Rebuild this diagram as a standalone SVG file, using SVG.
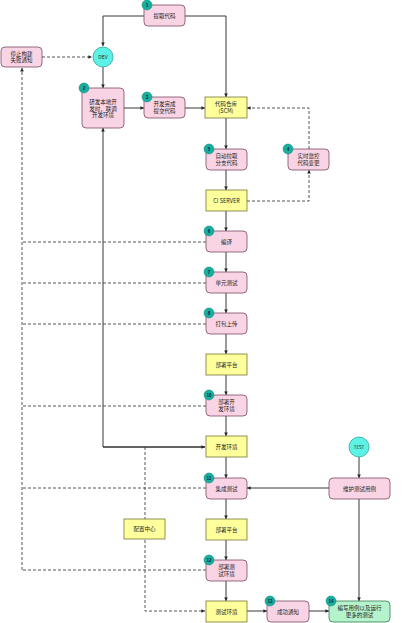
<svg xmlns="http://www.w3.org/2000/svg" width="418" height="623" viewBox="0 0 418 623">
<defs>
<marker id="ah" viewBox="0 0 6 6" refX="6" refY="3" markerWidth="4" markerHeight="4" orient="auto"><path d="M0,0 L6,3 L0,6 z" fill="#222"/></marker>
<style>
.pk{fill:#f9d4e4;stroke:#7a4a62;stroke-width:0.8}
.yl{fill:#ffff9c;stroke:#77773a;stroke-width:0.8}
.gr{fill:#b4f3cc;stroke:#3a7a52;stroke-width:0.8}
.cy{fill:#5cf2e6;stroke:#2aa8a0;stroke-width:0.8}
.bd{fill:#16b0a0;stroke:#0d7f73;stroke-width:0.5}
.t{font-family:"Noto Sans CJK SC","Liberation Sans",sans-serif;font-size:5.5px;fill:#222;text-anchor:middle}
.n{font-family:"Liberation Sans",sans-serif;font-size:4.5px;font-weight:bold;fill:#123;text-anchor:middle}
.s{fill:none;stroke:#222;stroke-width:0.9}
.d{fill:none;stroke:#444;stroke-width:0.9;stroke-dasharray:3,2}
</style>
</defs>
<rect width="418" height="623" fill="#fff"/>
<g id="connectors">
<path class="s" d="M185,16 H226 V97" marker-end="url(#ah)"/>
<path class="s" d="M144,16 H103 V46" marker-end="url(#ah)"/>
<path class="s" d="M103,67 V88" marker-end="url(#ah)"/>
<path class="d" d="M42,57 H92" marker-end="url(#ah)"/>
<path class="s" d="M124,108 H144" marker-end="url(#ah)"/>
<path class="s" d="M185,108 H205" marker-end="url(#ah)"/>
<path class="d" d="M309,149 V108 H247" marker-end="url(#ah)"/>
<path class="s" d="M226,118 V149" marker-end="url(#ah)"/>
<path class="s" d="M226,170 V190" marker-end="url(#ah)"/>
<path class="d" d="M247,201 H309 V170" marker-end="url(#ah)"/>
<path class="s" d="M226,211 V231" marker-end="url(#ah)"/>
<path class="s" d="M226,252 V272" marker-end="url(#ah)"/>
<path class="s" d="M226,293 V313" marker-end="url(#ah)"/>
<path class="s" d="M226,334 V354" marker-end="url(#ah)"/>
<path class="s" d="M226,375 V395" marker-end="url(#ah)"/>
<path class="s" d="M226,416 V436" marker-end="url(#ah)"/>
<path class="s" d="M226,457 V478" marker-end="url(#ah)"/>
<path class="s" d="M226,499 V519" marker-end="url(#ah)"/>
<path class="s" d="M226,540 V560" marker-end="url(#ah)"/>
<path class="s" d="M226,581 V601" marker-end="url(#ah)"/>
<path class="s" d="M205,447 H103 V128" marker-end="url(#ah)"/>
<path class="s" d="M103,447 H205" marker-end="url(#ah)"/>
<path class="d" d="M22,570 V68" marker-end="url(#ah)"/>
<path class="d" d="M206,242 H22 M206,283 H22 M206,324 H22 M206,406 H22 M206,488 H22 M206,570 H22"/>
<path class="d" d="M145,447 V519 M145,540 V611 H205" marker-end="url(#ah)"/>
<path class="s" d="M359,457 V478" marker-end="url(#ah)"/>
<path class="s" d="M329,488 H247" marker-end="url(#ah)"/>
<path class="s" d="M359,499 V601" marker-end="url(#ah)"/>
<path class="s" d="M247,611 H267" marker-end="url(#ah)"/>
<path class="s" d="M309,611 H329" marker-end="url(#ah)"/>
</g>
<g id="n1"><rect class="pk" x="144" y="5" width="41" height="21" rx="4"/><text class="t" x="164.5" y="17.5">提取代码</text><circle class="bd" cx="147" cy="5" r="5"/><text class="n" x="147" y="6.6">1</text></g>
<g id="stop"><rect class="pk" x="1" y="47" width="41" height="20" rx="4"/><text class="t" x="21.5" y="55.5">停止构建</text><text class="t" x="21.5" y="62">失败通知</text></g>
<g id="dev"><circle class="cy" cx="103" cy="57" r="10"/><text class="t" x="103" y="59" style="font-size:5px">DEV</text></g>
<g id="n2"><rect class="pk" x="82" y="88" width="42" height="40" rx="4"/><text class="t" x="103" y="104">研发本地开</text><text class="t" x="103" y="110.5">发时，联调</text><text class="t" x="103" y="117">开发环境</text><circle class="bd" cx="84" cy="88" r="5"/><text class="n" x="84" y="89.6">2</text></g>
<g id="n3"><rect class="pk" x="144" y="97" width="41" height="21" rx="4"/><text class="t" x="164.5" y="106">开发完成</text><text class="t" x="164.5" y="112.5">提交代码</text><circle class="bd" cx="147" cy="97" r="5"/><text class="n" x="147" y="98.6">3</text></g>
<g id="scm"><rect class="yl" x="205" y="97" width="42" height="21"/><text class="t" x="226" y="106">代码仓库</text><text class="t" x="226" y="112.5">(SCM)</text></g>
<g id="n4"><rect class="pk" x="288" y="149" width="41" height="21" rx="4"/><text class="t" x="308.5" y="158">实时监控</text><text class="t" x="308.5" y="164.5">代码变更</text><circle class="bd" cx="288" cy="149" r="5"/><text class="n" x="288" y="150.6">4</text></g>
<g id="n5"><rect class="pk" x="206" y="149" width="41" height="21" rx="4"/><text class="t" x="226.5" y="158">自动拉取</text><text class="t" x="226.5" y="164.5">分支代码</text><circle class="bd" cx="209" cy="149" r="5"/><text class="n" x="209" y="150.6">5</text></g>
<g id="ci"><rect class="yl" x="206" y="190" width="41" height="21"/><text class="t" x="226.5" y="202.5">CI SERVER</text></g>
<g id="n6"><rect class="pk" x="206" y="231" width="41" height="21" rx="4"/><text class="t" x="226.5" y="243.5">编译</text><circle class="bd" cx="209" cy="231" r="5"/><text class="n" x="209" y="232.6">6</text></g>
<g id="n7"><rect class="pk" x="206" y="272" width="41" height="21" rx="4"/><text class="t" x="226.5" y="284.5">单元测试</text><circle class="bd" cx="209" cy="272" r="5"/><text class="n" x="209" y="273.6">7</text></g>
<g id="n8"><rect class="pk" x="206" y="313" width="41" height="21" rx="4"/><text class="t" x="226.5" y="325.5">打包上传</text><circle class="bd" cx="209" cy="313" r="5"/><text class="n" x="209" y="314.6">8</text></g>
<g id="deploy1"><rect class="yl" x="206" y="354" width="41" height="21"/><text class="t" x="226.5" y="366.5">部署平台</text></g>
<g id="n10"><rect class="pk" x="206" y="395" width="41" height="21" rx="4"/><text class="t" x="226.5" y="404">部署开</text><text class="t" x="226.5" y="410.5">发环境</text><circle class="bd" cx="209" cy="395" r="5"/><text class="n" x="209" y="396.6">10</text></g>
<g id="devenv"><rect class="yl" x="206" y="436" width="41" height="21"/><text class="t" x="226.5" y="448.5">开发环境</text></g>
<g id="test"><circle class="cy" cx="359" cy="447" r="10"/><text class="t" x="359" y="449" style="font-size:4.5px">TEST</text></g>
<g id="n11"><rect class="pk" x="206" y="478" width="41" height="21" rx="4"/><text class="t" x="226.5" y="490.5">集成测试</text><circle class="bd" cx="209" cy="478" r="5"/><text class="n" x="209" y="479.6">11</text></g>
<g id="maint"><rect class="pk" x="329" y="478" width="61" height="21" rx="4"/><text class="t" x="359.5" y="490.5">维护测试用例</text></g>
<g id="config"><rect class="yl" x="124" y="519" width="41" height="20"/><text class="t" x="144.5" y="531">配置中心</text></g>
<g id="deploy2"><rect class="yl" x="206" y="519" width="41" height="21"/><text class="t" x="226.5" y="531.5">部署平台</text></g>
<g id="n12"><rect class="pk" x="206" y="560" width="41" height="21" rx="4"/><text class="t" x="226.5" y="569">部署测</text><text class="t" x="226.5" y="575.5">试环境</text><circle class="bd" cx="209" cy="560" r="5"/><text class="n" x="209" y="561.6">12</text></g>
<g id="testenv"><rect class="yl" x="206" y="601" width="41" height="21"/><text class="t" x="226.5" y="613.5">测试环境</text></g>
<g id="n13"><rect class="pk" x="267" y="601" width="42" height="21" rx="4"/><text class="t" x="288" y="613.5">成功通知</text><circle class="bd" cx="270" cy="601" r="5"/><text class="n" x="270" y="602.6">13</text></g>
<g id="n14"><rect class="gr" x="329" y="601" width="61" height="21" rx="4"/><text class="t" x="359.5" y="610">编写用例以及运行</text><text class="t" x="359.5" y="616.5">更多的测试</text><circle class="bd" cx="331" cy="601" r="5"/><text class="n" x="331" y="602.6">14</text></g>
</svg>
